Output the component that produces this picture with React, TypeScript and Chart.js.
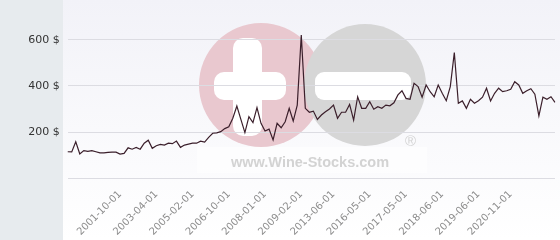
import React, { useEffect, useRef } from 'react';
import { Chart, registerables } from 'chart.js';

Chart.register(...registerables);

const PRICES = [
  115, 114, 158, 105, 120, 117, 120, 115, 110, 110,
  112, 113, 113, 105, 108, 132, 126, 134, 126, 152, 165,
  130, 141, 147, 144, 152, 150, 161, 134, 144, 148,
  152, 152, 161, 157, 177, 195, 197, 202, 215, 223,
  260, 313, 255, 198, 267, 241, 306, 238, 205, 213,
  166, 238, 219, 245, 303, 248, 317, 620, 303, 286,
  291, 255, 274, 288, 300, 317, 260, 286, 286, 320,
  252, 353, 303, 303, 332, 299, 310, 303, 317, 314,
  327, 361, 379, 346, 342, 411, 397, 351, 404, 375,
  353, 404, 368, 336, 397, 544, 325, 335, 303, 342,
  325, 336, 351, 390, 335, 368, 390, 375, 379, 385,
  418, 404, 368, 379, 388, 364, 270, 351, 342, 353,
  329,
];

const TICK_LABELS = [
  '2001-10-01', '2003-04-01', '2005-02-01', '2006-10-01', '2008-01-01', '2009-02-01',
  '2013-06-01', '2016-05-01', '2017-05-01', '2018-06-01', '2019-06-01', '2020-11-01',
];
const TICK_INDEX = [13, 22, 31, 40, 49, 58, 66, 75, 84, 93, 102, 110];

const Y_TICKS = [0, 200, 400, 600];
const Y_MAX = 772;

const bgPlugin = {
  id: 'bgWatermark',
  beforeDraw(chart: any) {
    const { ctx, width, height } = chart;
    ctx.save();
    ctx.fillStyle = '#e7ebee';
    ctx.fillRect(0, 0, 63, height);
    const g = ctx.createLinearGradient(0, 0, 0, height);
    g.addColorStop(0, '#f2f2f8');
    g.addColorStop(1, '#ffffff');
    ctx.fillStyle = g;
    ctx.fillRect(63, 0, width - 63, height);

    // watermark
    ctx.fillStyle = '#e9c8cf';
    ctx.beginPath();
    ctx.arc(261, 85, 62, 0, Math.PI * 2);
    ctx.fill();
    ctx.fillStyle = '#d6d6d6';
    ctx.beginPath();
    ctx.arc(365, 85, 61, 0, Math.PI * 2);
    ctx.fill();

    const rr = (x: number, y: number, w: number, h: number, r: number) => {
      ctx.beginPath();
      ctx.moveTo(x + r, y);
      ctx.arcTo(x + w, y, x + w, y + h, r);
      ctx.arcTo(x + w, y + h, x, y + h, r);
      ctx.arcTo(x, y + h, x, y, r);
      ctx.arcTo(x, y, x + w, y, r);
      ctx.closePath();
      ctx.fill();
    };
    ctx.fillStyle = '#ffffff';
    rr(233, 38, 29, 98, 10);
    rr(214, 72, 72, 28, 10);
    rr(315, 72, 96, 28, 9);

    ctx.fillStyle = 'rgba(255,255,255,0.55)';
    ctx.fillRect(197, 147, 230, 26);
    ctx.fillStyle = '#d3d3d3';
    ctx.font = 'bold 14.5px "Liberation Sans", Arial, sans-serif';
    ctx.textBaseline = 'alphabetic';
    ctx.fillText('www.Wine-Stocks.com', 231, 167);
    ctx.font = '15px "Liberation Sans", Arial, sans-serif';
    ctx.fillText('®', 405, 146);
    ctx.restore();
  },
};

export default function App() {
  const ref = useRef<HTMLCanvasElement | null>(null);
  useEffect(() => {
    document.body.style.margin = '0';
    const canvas = ref.current;
    if (!canvas) return;
    const labels = PRICES.map((_, i) => {
      const j = TICK_INDEX.indexOf(i);
      return j >= 0 ? TICK_LABELS[j] : '';
    });
    const chart = new Chart(canvas, {
      type: 'line',
      data: {
        labels,
        datasets: [
          {
            data: PRICES,
            borderColor: '#3b1f2b',
            borderWidth: 1.2,
            pointRadius: 0,
            tension: 0,
            fill: false,
          },
        ],
      },
      options: {
        animation: false,
        responsive: false,
        layout: { padding: { left: 0, right: 5, top: 0, bottom: 0 } },
        plugins: { legend: { display: false }, tooltip: { enabled: false } },
        scales: {
          x: {
            type: 'category',
            grid: { display: false },
            border: { display: false },
            ticks: {
              autoSkip: false,
              minRotation: 45,
              maxRotation: 45,
              color: '#8c8c8c',
              padding: 2,
              font: { family: '"DejaVu Sans", Verdana, sans-serif', size: 10 },
            },
            afterFit: (s: any) => {
              s.height = 61.7;
              s.paddingLeft = 0;
              s.paddingRight = 0;
            },
          },
          y: {
            min: 0,
            max: Y_MAX,
            grid: { color: '#dcdce2', drawTicks: false, lineWidth: 1 },
            border: { display: false },
            afterBuildTicks: (s: any) => {
              s.ticks = Y_TICKS.map((v) => ({ value: v }));
            },
            ticks: {
              color: '#333333',
              padding: 8,
              font: { family: '"DejaVu Sans", Verdana, sans-serif', size: 11 },
              callback: (v: any) => (v === 0 ? '' : `${v} $`),
            },
            afterFit: (s: any) => {
              s.width = 67.7;
              s.paddingTop = 0;
              s.paddingBottom = 0;
            },
          },
        },
      },
      plugins: [bgPlugin],
    });
    return () => chart.destroy();
  }, []);
  return (
    <div style={{ width: 560, height: 240 }}>
      <canvas ref={ref} width={560} height={240} style={{ display: 'block' }} />
    </div>
  );
}
